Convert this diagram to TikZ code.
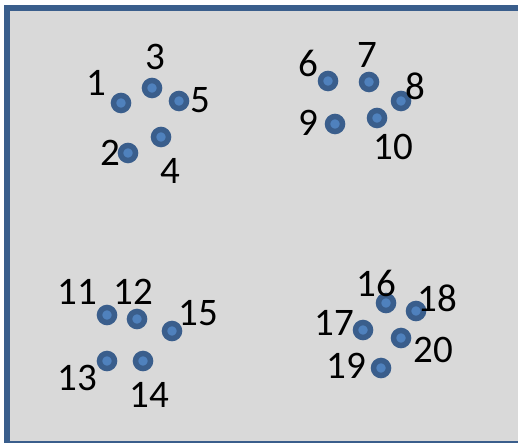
\documentclass[tikz,border=0pt]{standalone}
\usepackage{fontspec}
\setmainfont{Carlito}
\definecolor{panelgray}{HTML}{D9D9D9}
\definecolor{frameblue}{HTML}{3A5E8C}
\definecolor{dotblue}{HTML}{4F81BD}
\tikzset{
    dot/.style={circle, draw=frameblue, fill=dotblue, line width=5.5pt, minimum size=15pt, inner sep=0pt},
    lab/.style={inner sep=0pt, font=\fontsize{39}{39}\selectfont}
}
\begin{document}
\begin{tikzpicture}[x=1pt, y=-1pt]
    \useasboundingbox (0,0) rectangle (518,443);
    \clip (0,0) rectangle (518,443);
    % panel, cut off at the right and bottom
    \fill[white] (0,0) rectangle (518,443);
    \fill[panelgray] (7,8) rectangle (518,443);
    \draw[frameblue, line width=5.5pt] (518,8) -- (7,8) -- (7,443.5) -- (518,443.5);
    % points: number / dot x / dot y / label x / label y
    \foreach \n/\x/\y/\lx/\ly in {
        1/121/103/96/83, 2/128/153/110/153, 3/152/88/155/57, 4/161/137/170/171, 5/179/101/200/100,
        6/328/81/308/63, 7/369/82/367/55, 8/401/101/415/86, 9/335/124/308/123, 10/377/118/393/147,
        11/107/315/77/292, 12/137/319/133/292, 13/107/361/77/378, 14/143/361/149/395, 15/172/331/198/313,
        16/386/303/376/283, 17/363/330/334/323, 18/416/311/437/298, 19/381/368/346/366, 20/401/338/433/350} {
        \node[dot] (p\n) at (\x,\y) {};
        \node[lab] (t\n) at (\lx,\ly) {\n};
    }
\end{tikzpicture}
\end{document}
